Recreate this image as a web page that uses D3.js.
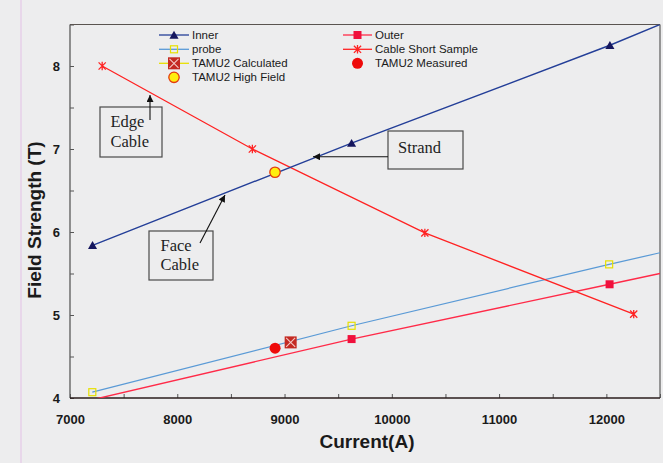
<!DOCTYPE html>
<html><head><meta charset="utf-8">
<script src="https://cdn.jsdelivr.net/npm/d3@7"></script>
<style>html,body{margin:0;padding:0;background:#ededee;}svg{display:block;}</style>
</head><body>
<svg id="c" width="663" height="463"></svg>
<script>
// ---- data ----
const xTicks = [7000, 8000, 9000, 10000, 11000, 12000];
const yTicks = [4, 5, 6, 7, 8];
const innerX = [7210, 9625, 12033];
const innerY = [5.84, 7.07, 8.25];
const innerLineX = [7210, 9625, 12033, 12500];
const innerLineY = [5.84, 7.07, 8.25, 8.50];
const outerX = [7210, 9625, 12030];
const outerY = [3.98, 4.71, 5.37];
const outerLineX = [7210, 9625, 12030, 12500];
const outerLineY = [3.98, 4.71, 5.37, 5.50];
const probeX = [7208, 9625, 12026];
const probeY = [4.07, 4.87, 5.61];
const probeLineX = [7208, 9625, 12026, 12500];
const probeLineY = [4.07, 4.87, 5.61, 5.75];
const cssX = [7300, 8700, 10308, 12255];
const cssY = [8.00, 7.00, 5.99, 5.01];
const calcX = [9057], calcY = [4.67];
const measX = [8912], measY = [4.60];
const highX = [8911], highY = [6.72];

const legendLeft = ["Inner", "probe", "TAMU2 Calculated", "TAMU2 High Field"];
const legendRight = ["Outer", "Cable Short Sample", "TAMU2 Measured"];

// ---- layout ----
const svg = d3.select("#c");
const x = d3.scaleLinear([7000, 12500], [70, 660]);
const y = d3.scaleLinear([4, 8.5], [398, 24.5]);
const C = {inner:"#243f98", innerM:"#15165e", outer:"#ff2a48", outerM:"#f0103c",
  probe:"#5a9ad6", probeM:"#e6e000", css:"#ff2222", calc:"#c42a22", meas:"#ee0a0a",
  highF:"#ffee10", highS:"#e33a10"};

svg.append("line").attr("x1",21).attr("x2",21).attr("y1",0).attr("y2",463).attr("stroke","#e6cfe8").attr("stroke-width",1.5);

svg.append("defs").append("clipPath").attr("id","clip")
  .append("rect").attr("x",70).attr("y",24.5).attr("width",590).attr("height",373.5);
const mk = svg.append("defs").append("marker").attr("id","arr")
  .attr("viewBox","0 0 10 10").attr("refX",10).attr("refY",5)
  .attr("markerWidth",9).attr("markerHeight",7).attr("markerUnits","userSpaceOnUse")
  .attr("orient","auto");
mk.append("path").attr("d","M0,0L10,5L0,10z").attr("fill","#111");

// axes
const xAxis = d3.axisBottom(x).tickValues(d3.range(7000, 12501, 500))
  .tickSize(-4).tickPadding(17)
  .tickFormat(d => xTicks.includes(d) ? d : "");
const gx = svg.append("g").attr("transform","translate(0,398)").call(xAxis);
const yAxis = d3.axisLeft(y).tickValues(d3.range(4, 8.51, 0.5))
  .tickSize(-4).tickPadding(10)
  .tickFormat(d => yTicks.includes(d) ? d : "");
const gy = svg.append("g").attr("transform","translate(70,0)").call(yAxis);
[gx, gy].forEach(g => {
  g.select(".domain").remove();
  g.selectAll(".tick line").attr("stroke","#555");
  g.selectAll("text").attr("font-family","Liberation Sans, Arial, sans-serif")
   .attr("font-size",13).attr("font-weight","bold").attr("fill","#1a1a1a");
});
// frame
svg.append("line").attr("x1",70).attr("x2",660).attr("y1",24.5).attr("y2",24.5).attr("stroke","#5a5450").attr("stroke-width",1.2);
svg.append("line").attr("x1",660).attr("x2",660).attr("y1",24.5).attr("y2",398).attr("stroke","#5a5a5a").attr("stroke-width",1.2);
svg.append("line").attr("x1",70).attr("x2",70).attr("y1",24.5).attr("y2",398).attr("stroke","#5a5a5a").attr("stroke-width",1.3);
svg.append("line").attr("x1",70).attr("x2",660).attr("y1",398).attr("y2",398).attr("stroke","#2a1c1c").attr("stroke-width",1.6);

// axis titles
svg.append("text").attr("x",367).attr("y",448).attr("text-anchor","middle")
  .attr("font-family","Liberation Sans, Arial, sans-serif").attr("font-weight","bold")
  .attr("font-size",19).attr("fill","#1a1a1a").text("Current(A)");
svg.append("text").attr("transform","translate(41,220) rotate(-90)").attr("text-anchor","middle")
  .attr("font-family","Liberation Sans, Arial, sans-serif").attr("font-weight","bold")
  .attr("font-size",19).attr("fill","#1a1a1a").text("Field Strength (T)");

// lines
const plot = svg.append("g").attr("clip-path","url(#clip)");
const line = d3.line().x(d => x(d[0])).y(d => y(d[1]));
const zip = (a, b) => a.map((v, i) => [v, b[i]]);
plot.append("path").attr("d", line(zip(probeLineX, probeLineY))).attr("fill","none").attr("stroke",C.probe).attr("stroke-width",1.2);
plot.append("path").attr("d", line(zip(outerLineX, outerLineY))).attr("fill","none").attr("stroke",C.outer).attr("stroke-width",1.4);
plot.append("path").attr("d", line(zip(cssX, cssY))).attr("fill","none").attr("stroke",C.css).attr("stroke-width",1.3);
plot.append("path").attr("d", line(zip(innerLineX, innerLineY))).attr("fill","none").attr("stroke",C.inner).attr("stroke-width",1.4);

// marker drawing helpers
function drawMarker(g, type, cx, cy) {
  if (type === "tri") {
    g.append("path").attr("d", d3.symbol(d3.symbolTriangle, 36)()).attr("transform",`translate(${cx},${cy+1})`).attr("fill",C.innerM);
  } else if (type === "sq") {
    g.append("rect").attr("x",cx-4).attr("y",cy-4).attr("width",8).attr("height",8).attr("fill",C.outerM);
  } else if (type === "osq") {
    g.append("rect").attr("x",cx-3.5).attr("y",cy-3.5).attr("width",7).attr("height",7).attr("fill","none").attr("stroke",C.probeM).attr("stroke-width",1.2);
  } else if (type === "star") {
    const r = 3.6;
    g.append("path").attr("d",`M${cx-r},${cy-r}L${cx+r},${cy+r}M${cx-r},${cy+r}L${cx+r},${cy-r}M${cx},${cy-r-0.6}L${cx},${cy+r+0.6}`)
      .attr("stroke",C.css).attr("stroke-width",1.3).attr("fill","none");
  } else if (type === "calc") {
    g.append("rect").attr("x",cx-6).attr("y",cy-6).attr("width",12).attr("height",12).attr("fill",C.calc);
    g.append("path").attr("d",`M${cx-4.5},${cy-4.5}L${cx+4.5},${cy+4.5}M${cx-4.5},${cy+4.5}L${cx+4.5},${cy-4.5}`)
      .attr("stroke","#f3c8c4").attr("stroke-width",1.1);
  } else if (type === "meas") {
    g.append("circle").attr("cx",cx).attr("cy",cy).attr("r",5.5).attr("fill",C.meas);
  } else if (type === "high") {
    g.append("circle").attr("cx",cx).attr("cy",cy).attr("r",5.2).attr("fill",C.highF).attr("stroke",C.highS).attr("stroke-width",1.3);
  }
}
const inDomain = (xv, yv) => yv >= 4 && yv <= 8.5 && xv >= 7000 && xv <= 12500;
const mg = svg.append("g");
[[innerX, innerY, "tri"], [outerX, outerY, "sq"], [probeX, probeY, "osq"], [cssX, cssY, "star"],
 [measX, measY, "meas"], [calcX, calcY, "calc"], [highX, highY, "high"]].forEach(([xs, ys, t]) => {
  xs.forEach((xv, i) => { if (inDomain(xv, ys[i])) drawMarker(mg, t, x(xv), y(ys[i])); });
});

// legend
const lg = svg.append("g").attr("font-family","Liberation Sans, Arial, sans-serif").attr("font-size",11.5).attr("fill","#1a1a1a");
const rowY = [35, 49.3, 63.3, 77.3];
const leftSpec = [["tri", C.inner], ["osq", C.probe], ["calc", "#e8e000"], ["high", null]];
legendLeft.forEach((t, i) => {
  const [type, lc] = leftSpec[i];
  if (lc) lg.append("line").attr("x1",159).attr("x2",189).attr("y1",rowY[i]).attr("y2",rowY[i]).attr("stroke",lc).attr("stroke-width",1.3);
  drawMarker(lg, type, 174, rowY[i]);
  lg.append("text").attr("x",192).attr("y",rowY[i]+4).text(t);
});
const rightSpec = [["sq", C.outer], ["star", C.css], ["meas", null]];
legendRight.forEach((t, i) => {
  const [type, lc] = rightSpec[i];
  if (lc) lg.append("line").attr("x1",343).attr("x2",372).attr("y1",rowY[i]).attr("y2",rowY[i]).attr("stroke",lc).attr("stroke-width",1.3);
  drawMarker(lg, type, 357.5, rowY[i]);
  lg.append("text").attr("x",375).attr("y",rowY[i]+4).text(t);
});

// annotations
const notes = [
  {box:[100,107,62,50], lines:["Edge","Cable"], tx:110.5, ty:[127,147], arrow:[150,120,150,95]},
  {box:[149,231,64,49], lines:["Face","Cable"], tx:160.5, ty:[251,270], arrow:[200,243,225,195]},
  {box:[388,131,75,38], lines:["Strand"], tx:398, ty:[152.5], arrow:[388,156.7,313,156.7]}
];
const ag = svg.append("g");
notes.forEach(n => {
  ag.append("rect").attr("x",n.box[0]).attr("y",n.box[1]).attr("width",n.box[2]).attr("height",n.box[3])
    .attr("fill","none").attr("stroke","#4a4a4a").attr("stroke-width",1.2);
  n.lines.forEach((s, i) => ag.append("text").attr("x",n.tx).attr("y",n.ty[i])
    .attr("font-family","Liberation Serif, Times New Roman, serif").attr("font-size",16.5).attr("fill","#1e1e1e").text(s));
  ag.append("line").attr("x1",n.arrow[0]).attr("y1",n.arrow[1]).attr("x2",n.arrow[2]).attr("y2",n.arrow[3])
    .attr("stroke","#111").attr("stroke-width",1.1).attr("marker-end","url(#arr)");
});
</script>
</body></html>
